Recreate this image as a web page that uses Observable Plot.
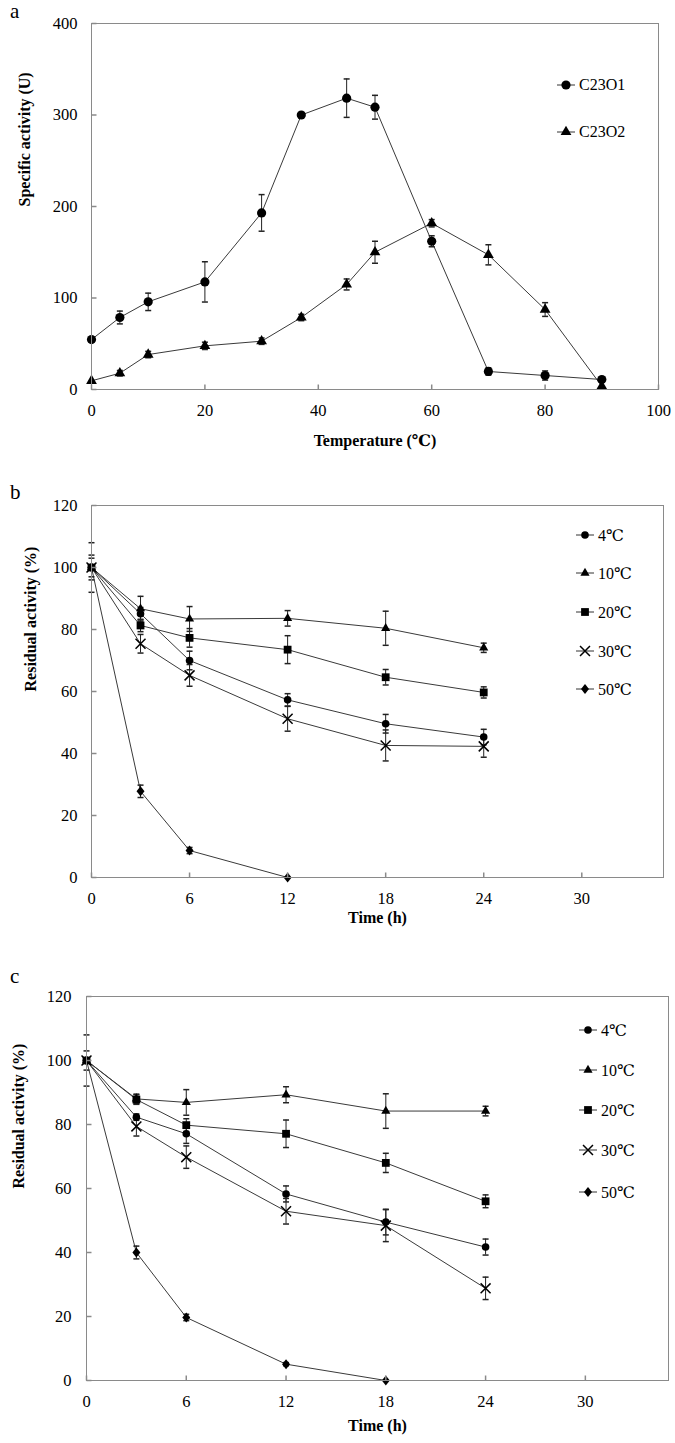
<!DOCTYPE html>
<html><head><meta charset="utf-8">
<script src="https://cdn.jsdelivr.net/npm/d3@7"></script>
<script src="https://cdn.jsdelivr.net/npm/@observablehq/plot@0.6"></script>
<style>
body{margin:0;background:#fff;}
#root{position:relative;width:675px;height:1443px;font-family:"Liberation Serif","DejaVu Serif","Noto Sans CJK SC",serif;color:#000;overflow:hidden;}
.panel{position:absolute;left:0;}
.letter{position:absolute;left:10px;font-size:21px;line-height:20px;}
.item{position:absolute;display:flex;align-items:center;white-space:nowrap;height:20px;font-size:16px;}
</style></head><body><div id="root"></div>
<script>
// ---------- data: panel a ----------
const tempA = [0, 5, 10, 20, 30, 37, 45, 50, 60, 70, 80, 90];
const c23o1 = [54.6, 78.7, 95.8, 117.6, 193, 300, 318.4, 308.5, 162, 19.7, 15.3, 10.9];
const c23o1Err = [0, 7, 9.5, 22, 20, 2, 21, 13, 6, 4, 5, 1];
const c23o2 = [9.5, 17.8, 38.2, 47.7, 52.8, 78.7, 114.8, 150, 181.7, 147.2, 87.4, 3.6];
const c23o2Err = [0, 3, 3.5, 4, 3.5, 3.5, 6, 12, 4, 11, 7.5, 0];
const enzymeLabels = ["C23O1", "C23O2"];
const tempTicks = [0, 20, 40, 60, 80, 100];
const activityTicks = [0, 100, 200, 300, 400];

// ---------- data: panels b and c ----------
const timeHours = [0, 3, 6, 12, 18, 24];
const tempLabels = ["4℃", "10℃", "20℃", "30℃", "50℃"];
const timeTicks = [0, 6, 12, 18, 24, 30];
const residualTicks = [0, 20, 40, 60, 80, 100, 120];

const b4 = [100, 85.1, 70, 57.3, 49.6, 45.3];
const b4Err = [8, 2, 3, 2, 3, 2.5];
const b10 = [100, 86.7, 83.4, 83.6, 80.4, 74.1];
const b10Err = [4, 4, 4, 2.5, 5.5, 1.5];
const b20 = [100, 81.3, 77.3, 73.5, 64.6, 59.7];
const b20Err = [3, 2, 3, 4.5, 2.5, 1.8];
const b30 = [100, 75.4, 65.2, 51.2, 42.6, 42.3];
const b30Err = [0, 3, 3.5, 4, 5, 3.5];
const b50 = [100, 27.8, 8.7, 0];
const b50Err = [0, 2, 1, 0];

const c4 = [100, 82.3, 77.1, 58.3, 49.5, 41.7];
const c4Err = [8, 1, 3, 2.5, 4, 2.5];
const c10 = [100, 88, 86.9, 89.3, 84.2, 84.2];
const c10Err = [0, 1.5, 4, 2.5, 5.4, 1.5];
const c20 = [100, 87.8, 79.8, 77.1, 68, 56];
const c20Err = [3, 1.5, 2, 4.3, 3, 2];
const c30 = [100, 79.4, 69.8, 52.9, 48.4, 28.8];
const c30Err = [0, 3, 3.5, 4, 5, 3.5];
const c50 = [100, 40, 19.7, 5.1, 0];
const c50Err = [0, 2, 1, 0.5, 0];

// ---------- helpers ----------
function rowsOf(series, xs, ys, errs) {
  return ys.map((v, i) => ({series, x: xs[i], y: v, err: errs[i]}));
}
const tickRight = {draw(ctx) { ctx.moveTo(0, 0); ctx.lineTo(5, 0); }};
const tickUp = {draw(ctx) { ctx.moveTo(0, 0); ctx.lineTo(0, -5); }};
const capSym = {draw(ctx) { ctx.moveTo(-3, 0); ctx.lineTo(3, 0); }};
const diamondSym = {draw(ctx) { ctx.moveTo(0, -5); ctx.lineTo(4, 0); ctx.lineTo(0, 5); ctx.lineTo(-4, 0); ctx.closePath(); }};
const frameGray = "#8a8a8a";
const fontStack = '"Liberation Serif","DejaVu Serif","Noto Sans CJK SC",serif';

function makePanel(o) {
  const errRows = o.rows.filter(d => d.err > 0);
  const marks = [
    Plot.line(o.rows, {x: "x", y: "y", z: "series", stroke: "#3a3a3a", strokeWidth: 1}),
    Plot.ruleX(errRows, {x: "x", y1: d => d.y - d.err, y2: d => d.y + d.err, stroke: "#222", strokeWidth: 1}),
    Plot.dot(errRows, {x: "x", y: d => d.y - d.err, symbol: capSym, r: 1, stroke: "#222", fill: "none"}),
    Plot.dot(errRows, {x: "x", y: d => d.y + d.err, symbol: capSym, r: 1, stroke: "#222", fill: "none"}),
  ];
  o.styles.forEach(s => {
    const data = o.rows.filter(d => d.series === s.label);
    const sym = s.symbol === "diamond" ? diamondSym : s.symbol;
    if (s.stroke) marks.push(Plot.dot(data, {x: "x", y: "y", symbol: sym, r: s.r, stroke: "#000", strokeWidth: 1.5, fill: "none"}));
    else marks.push(Plot.dot(data, {x: "x", y: "y", symbol: sym, r: s.r, fill: "#000", stroke: "none"}));
  });
  marks.push(
    Plot.frame({stroke: frameGray}),
    Plot.dot(o.yTicks, {y: d => d, frameAnchor: "left", symbol: tickRight, r: 1, stroke: frameGray, fill: "none"}),
    Plot.dot(o.xTicks, {x: d => d, frameAnchor: "bottom", symbol: tickUp, r: 1, stroke: frameGray, fill: "none"}),
    Plot.axisY({ticks: o.yTicks, tickSize: 0, tickPadding: o.yPad, label: null}),
    Plot.axisX({ticks: o.xTicks, tickSize: 0, tickPadding: 15, label: null}),
    Plot.text([o.xTitle], {text: d => d, frameAnchor: "bottom", dy: o.xTitleDy, fontWeight: "bold", fontSize: 16}),
    Plot.text([o.yTitle], {text: d => d, frameAnchor: "left", rotate: -90, dx: o.yTitleDx, fontWeight: "bold", fontSize: 16})
  );
  const chart = Plot.plot({
    width: 675, height: o.height,
    marginTop: o.mt, marginBottom: o.mb, marginLeft: o.ml, marginRight: o.mr,
    x: {domain: o.xDomain, axis: null},
    y: {domain: o.yDomain, axis: null},
    style: {fontFamily: fontStack, fontSize: "16.5px", color: "#000", background: "transparent", overflow: "visible"},
    marks
  });
  chart.classList.add("panel");
  chart.style.top = o.top + "px";
  chart.style.fontFamily = fontStack;
  return chart;
}

function addLegend(root, styles, left, centers) {
  styles.forEach((s, i) => {
    const div = document.createElement("div");
    div.className = "item";
    div.style.left = left + "px";
    div.style.top = (centers[i] - 10) + "px";
    const svg = d3.create("svg").attr("width", 19).attr("height", 20);
    svg.append("line").attr("x1", 0).attr("x2", 18).attr("y1", 10).attr("y2", 10).attr("stroke", "#333");
    let d;
    if (s.symbol === "diamond") d = "M0,-5L4,0L0,5L-4,0Z";
    else {
      const type = {circle: d3.symbolCircle, triangle: d3.symbolTriangle, square: d3.symbolSquare, times: d3.symbolTimes}[s.symbol];
      d = d3.symbol(type, Math.PI * s.r * s.r)();
    }
    svg.append("path").attr("transform", "translate(9,10)")
      .attr("d", d)
      .attr("fill", s.stroke ? "none" : "#000")
      .attr("stroke", s.stroke ? "#000" : "none")
      .attr("stroke-width", 1.5);
    div.append(svg.node());
    const span = document.createElement("span");
    span.textContent = s.label;
    span.style.marginLeft = "3px";
    div.append(span);
    root.append(div);
  });
}
function addLetter(root, txt, top) {
  const d = document.createElement("div");
  d.className = "letter"; d.textContent = txt; d.style.top = top + "px";
  root.append(d);
}

const root = document.getElementById("root");

// ---------- panel a ----------
const stylesA = [
  {label: enzymeLabels[0], symbol: "circle", r: 4.6},
  {label: enzymeLabels[1], symbol: "triangle", r: 4.0}
];
const rowsA = [
  ...rowsOf(enzymeLabels[0], tempA, c23o1, c23o1Err),
  ...rowsOf(enzymeLabels[1], tempA, c23o2, c23o2Err)
];
root.append(makePanel({
  top: 0, height: 465, mt: 23, mb: 76, ml: 91, mr: 17,
  xDomain: [0, 100], yDomain: [0, 400], xTicks: tempTicks, yTicks: activityTicks, yPad: 14,
  rows: rowsA, styles: stylesA,
  xTitle: "Temperature (℃)", xTitleDy: 56, yTitle: "Specific activity (U)", yTitleDx: -67
}));
addLetter(root, "a", 1);
addLegend(root, stylesA, 557, [85, 132]);

// ---------- panels b, c ----------
const symStyles = [
  {label: tempLabels[0], symbol: "circle", r: 3.8},
  {label: tempLabels[1], symbol: "triangle", r: 3.4},
  {label: tempLabels[2], symbol: "square", r: 4.4},
  {label: tempLabels[3], symbol: "times", r: 4.6, stroke: true},
  {label: tempLabels[4], symbol: "diamond", r: 3.0}
];
const rowsB = [
  ...rowsOf(tempLabels[0], timeHours, b4, b4Err),
  ...rowsOf(tempLabels[1], timeHours, b10, b10Err),
  ...rowsOf(tempLabels[2], timeHours, b20, b20Err),
  ...rowsOf(tempLabels[3], timeHours, b30, b30Err),
  ...rowsOf(tempLabels[4], timeHours, b50, b50Err)
];
root.append(makePanel({
  top: 465, height: 475, mt: 40, mb: 63, ml: 91, mr: 12,
  xDomain: [0, 35], yDomain: [0, 120], xTicks: timeTicks, yTicks: residualTicks, yPad: 14,
  rows: rowsB, styles: symStyles,
  xTitle: "Time (h)", xTitleDy: 45, yTitle: "Residual activity (%)", yTitleDx: -61
}));
addLetter(root, "b", 482);
addLegend(root, symStyles, 576, [535, 573, 612, 651, 689]);

const rowsC = [
  ...rowsOf(tempLabels[0], timeHours, c4, c4Err),
  ...rowsOf(tempLabels[1], timeHours, c10, c10Err),
  ...rowsOf(tempLabels[2], timeHours, c20, c20Err),
  ...rowsOf(tempLabels[3], timeHours, c30, c30Err),
  ...rowsOf(tempLabels[4], timeHours, c50, c50Err)
];
root.append(makePanel({
  top: 940, height: 503, mt: 56, mb: 63, ml: 86, mr: 7,
  xDomain: [0, 35], yDomain: [0, 120], xTicks: timeTicks, yTicks: residualTicks, yPad: 15,
  rows: rowsC, styles: symStyles,
  xTitle: "Time (h)", xTitleDy: 50, yTitle: "Residual activity (%)", yTitleDx: -68
}));
addLetter(root, "c", 966);
addLegend(root, symStyles, 579, [1030, 1070, 1110, 1150, 1192]);
</script>
</body></html>
